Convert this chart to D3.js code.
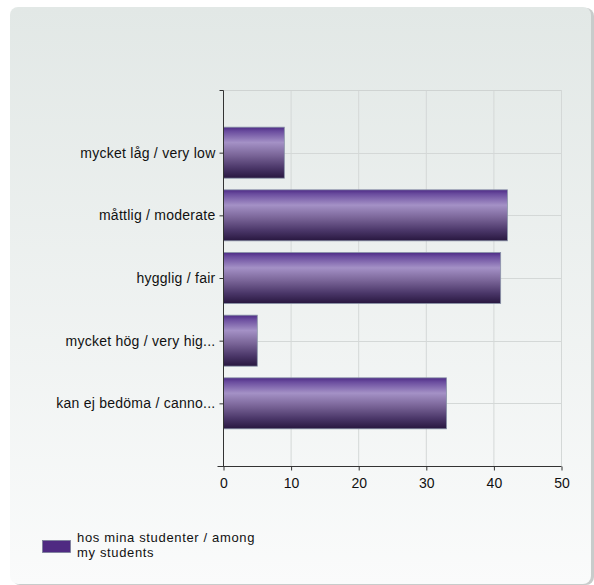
<!DOCTYPE html>
<html><head><meta charset="utf-8">
<script src="https://cdn.jsdelivr.net/npm/d3@7"></script>
<style>html,body{margin:0;padding:0;background:#fff;}svg{display:block;font-family:"Liberation Sans",Arial,sans-serif;}</style>
</head><body>
<svg id="c" width="594" height="585"></svg>
<script>
const categories = ["mycket låg / very low","måttlig / moderate","hygglig / fair","mycket hög / very hig...","kan ej bedöma / canno..."];
const values = [9, 42, 41, 5, 33];
const xTicks = [0, 10, 20, 30, 40, 50];
const legendLines = ["hos mina studenter / among", "my students"];

(function(){
const svg = d3.select("#c");
const defs = svg.append("defs");
const bg = defs.append("linearGradient").attr("id","bg").attr("x1",0).attr("y1",0).attr("x2",0).attr("y2",1);
bg.append("stop").attr("offset","0%").attr("stop-color","#e2e8e6");
bg.append("stop").attr("offset","100%").attr("stop-color","#fafbfb");
const bar = defs.append("linearGradient").attr("id","bar").attr("x1",0).attr("y1",0).attr("x2",0).attr("y2",1);
[["0%","#4e2c86"],["8%","#6a4c9e"],["30%","#a491c6"],["55%","#7a6598"],["80%","#4a3668"],["100%","#28173f"]]
  .forEach(([o,c]) => bar.append("stop").attr("offset",o).attr("stop-color",c));

svg.append("rect").attr("x",12).attr("y",8).attr("width",582).attr("height",577).attr("rx",8).attr("fill","#c8cccb");
svg.append("rect").attr("x",10).attr("y",7).attr("width",581).attr("height",577).attr("rx",8).attr("fill","url(#bg)");

const pL = 223, pR = 561, pT = 90, pB = 466;
const x = d3.scaleLinear().domain([0, 50]).range([pL, pR]);
const step = (pB - pT) / (categories.length + 1);
const y = d3.scalePoint().domain(categories).range([pT + step, pB - step]);
const barH = 51;
const fontSpec = "Liberation Sans, Arial, sans-serif";

const g = svg.append("g");
g.selectAll(".vg").data(xTicks).join("line")
  .attr("x1", d => x(d) + 0.5).attr("x2", d => x(d) + 0.5)
  .attr("y1", pT).attr("y2", pB).attr("stroke", "#d4d8d7");
g.selectAll(".hg").data(categories).join("line")
  .attr("x1", pL).attr("x2", pR)
  .attr("y1", d => Math.round(y(d)) + 0.5).attr("y2", d => Math.round(y(d)) + 0.5).attr("stroke", "#d4d8d7");
g.append("line").attr("x1", pL).attr("x2", pR).attr("y1", pT + 0.5).attr("y2", pT + 0.5).attr("stroke", "#cfd3d2");

g.selectAll(".bar").data(values).join("rect")
  .attr("x", x(0) + 0.5)
  .attr("y", (d, i) => y(categories[i]) - barH / 2)
  .attr("width", d => x(d) - x(0))
  .attr("height", barH)
  .attr("fill", "url(#bar)")
  .attr("stroke", "#8a94a8").attr("stroke-width", 0.8);

const xAxis = d3.axisBottom(x).tickValues(xTicks).tickSize(4).tickPadding(7.5);
const ax = svg.append("g").attr("transform", `translate(0.5,${pB + 0.5})`).call(xAxis);
ax.select(".domain").attr("d", `M${pL - 6},0H${pR}`).attr("stroke", "#333");
ax.selectAll(".tick line").attr("stroke", "#333");
ax.selectAll("text").attr("font-size", 14).attr("fill", "#111").attr("font-family", fontSpec);

const yAxis = d3.axisLeft(y).tickSize(4).tickPadding(4);
const ay = svg.append("g").attr("transform", `translate(${pL + 0.5},0)`).call(yAxis);
ay.select(".domain").attr("d", `M-4,${pT + 0.5}H0V${pB}`).attr("stroke", "#333");
ay.selectAll(".tick line").attr("stroke", "#333");
ay.selectAll("text").attr("font-size", 14).attr("letter-spacing", 0.25).attr("fill", "#111").attr("font-family", fontSpec);

svg.append("rect").attr("x", 42.5).attr("y", 540.5).attr("width", 28).attr("height", 12)
  .attr("fill", "#4f2a82").attr("stroke", "#7a7f9a").attr("stroke-width", 0.8);
svg.append("g").selectAll("text").data(legendLines).join("text")
  .attr("x", 77).attr("y", (d, i) => 542 + i * 15)
  .attr("font-size", 13).attr("letter-spacing", 0.65).attr("fill", "#111").text(d => d);
})();
</script>
</body></html>
